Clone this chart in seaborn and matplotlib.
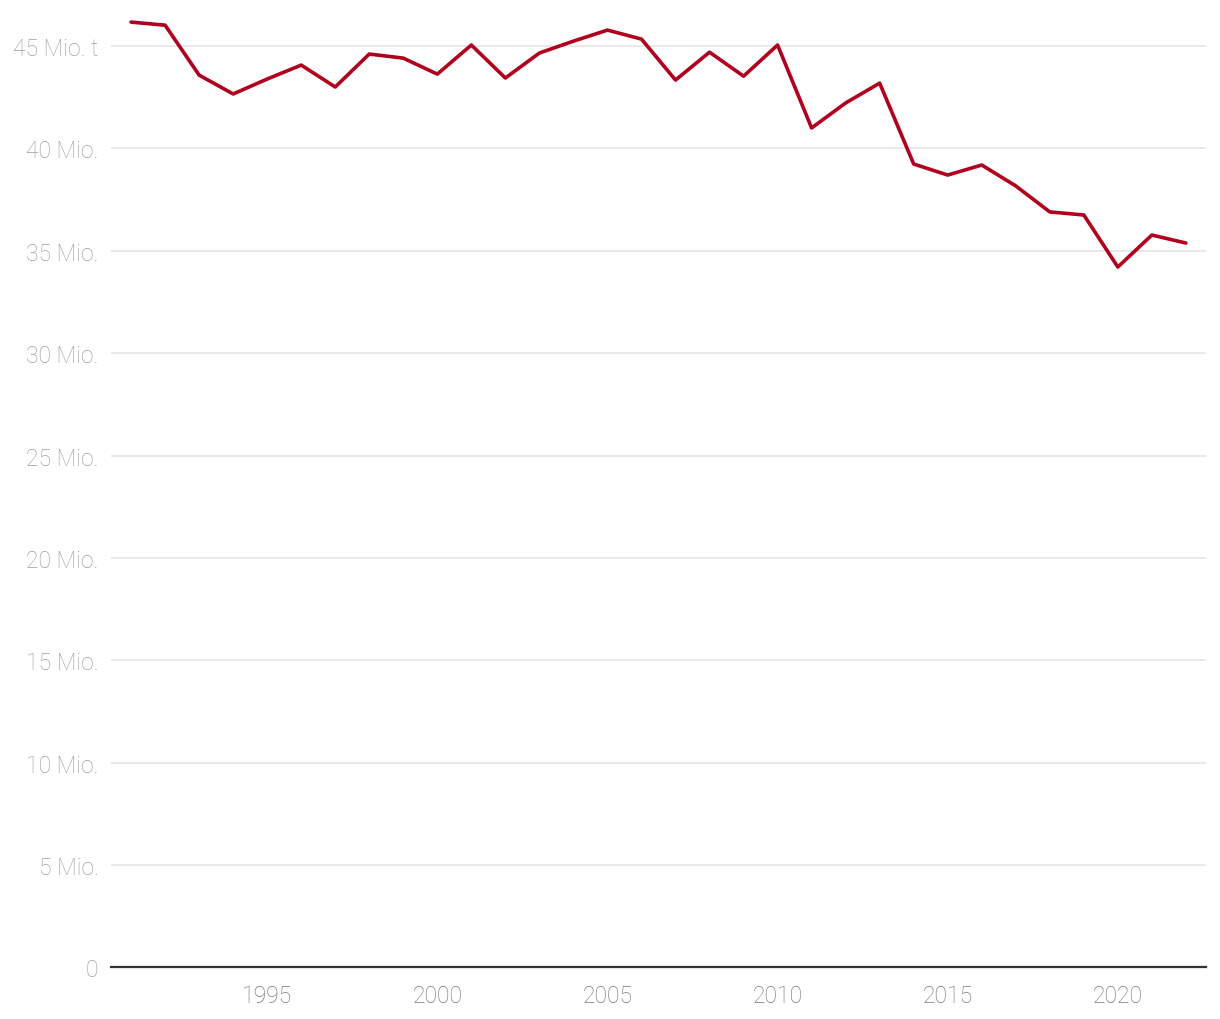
import matplotlib
matplotlib.use("Agg")
import matplotlib.pyplot as plt
import seaborn as sns
import pandas as pd

# Daten
jahre = list(range(1991, 2023))
werte = [46.17, 46.02, 43.58, 42.66, 43.39, 44.07, 43.0, 44.61, 44.41, 43.63,
         45.05, 43.44, 44.66, 45.24, 45.78, 45.34, 43.34, 44.70, 43.53, 45.05,
         41.0, 42.22, 43.19, 39.24, 38.70, 39.19, 38.17, 36.90, 36.75, 34.21,
         35.77, 35.38]
y_ticks = [0, 5, 10, 15, 20, 25, 30, 35, 40, 45]
y_labels = ["0", "5 Mio.", "10 Mio.", "15 Mio.", "20 Mio.", "25 Mio.",
            "30 Mio.", "35 Mio.", "40 Mio.", "45 Mio. t"]
x_ticks = [1995, 2000, 2005, 2010, 2015, 2020]

df = pd.DataFrame({"jahr": jahre, "wert": werte})

sns.set_theme(style="white")
plt.rcParams["font.family"] = ["Roboto", "DejaVu Sans"]
plt.rcParams["font.weight"] = "light"

fig = plt.figure(figsize=(12.2, 10.2), dpi=100)
ax = fig.add_axes([0.091, 0.0505, 0.8975, 0.9395])

sns.lineplot(data=df, x="jahr", y="wert", ax=ax, color="#B0001E", linewidth=2.6)

ax.set_xlim(1990.41, 2022.59)
ax.set_ylim(0, 46.8)
ax.set_yticks(y_ticks)
ax.set_yticklabels(y_labels)
ax.set_xticks(x_ticks)
ax.set_xticklabels([str(x) for x in x_ticks])

ax.grid(axis="y", color="#e3e3e3", linewidth=1.1)
ax.grid(axis="x", visible=False)
ax.set_axisbelow(True)
for s in ["top", "right", "left"]:
    ax.spines[s].set_visible(False)
ax.spines["bottom"].set_color("#333333")
ax.spines["bottom"].set_linewidth(1.6)

ax.tick_params(axis="y", length=0, pad=9, labelsize=16.5, labelcolor="#a0a0a0")
ax.tick_params(axis="x", length=0, pad=12, labelsize=16.5, labelcolor="#787878")
ax.set_xlabel("")
ax.set_ylabel("")

fig.savefig("out.png", dpi=100, facecolor="white")
